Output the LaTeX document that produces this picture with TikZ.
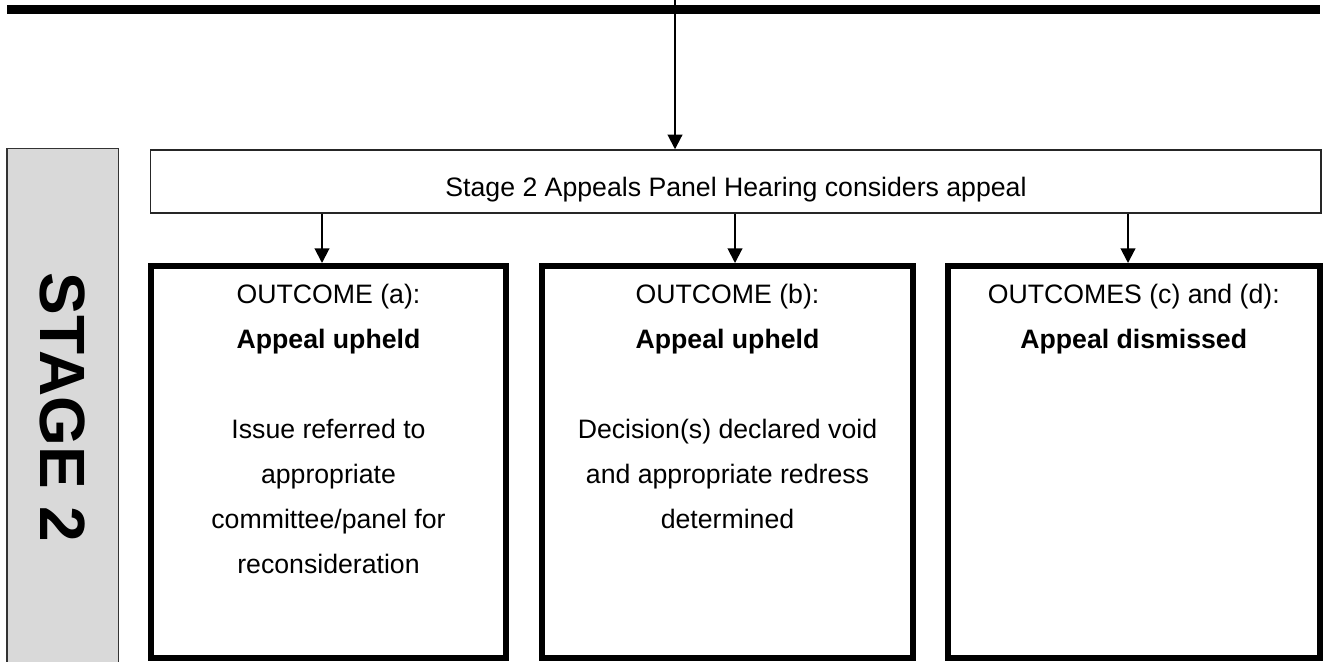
\documentclass[tikz,border=0pt]{standalone}
\usepackage{fontspec}
\setmainfont{Liberation Sans}
\usetikzlibrary{arrows.meta}

\definecolor{stagegrey}{HTML}{D9D9D9}
\tikzstyle{panel} = [draw=black!85, line width=1.1pt, minimum width=877.5pt, minimum height=47.25pt]
\tikzstyle{outcome} = [draw, line width=4.5pt, minimum height=294pt]
\tikzstyle{words} = [anchor=north, inner sep=0pt, align=center, font=\fontsize{20}{33.75}\selectfont]
\tikzstyle{flow} = [-{Triangle[length=11pt,width=11pt]}, line width=1.5pt]

\begin{document}
\begin{tikzpicture}[x=0.75pt, y=-0.75pt]
  \useasboundingbox (0,0) rectangle (1333,661);
  \node (bar) at (663.5,9.5) [fill, inner sep=0pt, minimum width=984.75pt, minimum height=6.75pt] {};
  \node (stage) at (62.5,407.5) [draw=black!80, fill=stagegrey, line width=1.1pt, rotate=-90, minimum width=388.5pt, minimum height=83.6pt, font=\fontsize{48}{50}\selectfont\bfseries] {STAGE 2};
  \node (hearing) at (735.75,181.5) [panel] {};
  \node (hearingtext) at (736,196) [anchor=base, inner sep=0pt, font=\fontsize{20}{33.75}\selectfont] {Stage 2 Appeals Panel Hearing considers appeal};
  \node (outa) at (328.5,462) [outcome, minimum width=266.25pt] {};
  \node (outb) at (727.5,462) [outcome, minimum width=278.25pt] {};
  \node (outc) at (1133.75,462) [outcome, minimum width=279.4pt] {};
  \node (texta) at (328.5,284) [words] {OUTCOME (a):\\ \textbf{Appeal upheld}\\[33.75pt] Issue referred to\\ appropriate\\ committee/panel for\\ reconsideration};
  \node (textb) at (727.5,284) [words] {OUTCOME (b):\\ \textbf{Appeal upheld}\\[33.75pt] Decision(s) declared void\\ and appropriate redress\\ determined};
  \node (textc) at (1133.75,284) [words] {OUTCOMES (c) and (d):\\ \textbf{Appeal dismissed}};
  \coordinate (feed) at (675,0);
  \coordinate (toa) at (322,0);
  \coordinate (tob) at (735,0);
  \coordinate (toc) at (1128,0);
  \draw [flow] (feed) -- (feed |- hearing.north);
  \draw [flow] (toa |- hearing.south) -- (toa |- outa.north);
  \draw [flow] (tob |- hearing.south) -- (tob |- outb.north);
  \draw [flow] (toc |- hearing.south) -- (toc |- outc.north);
\end{tikzpicture}
\end{document}
